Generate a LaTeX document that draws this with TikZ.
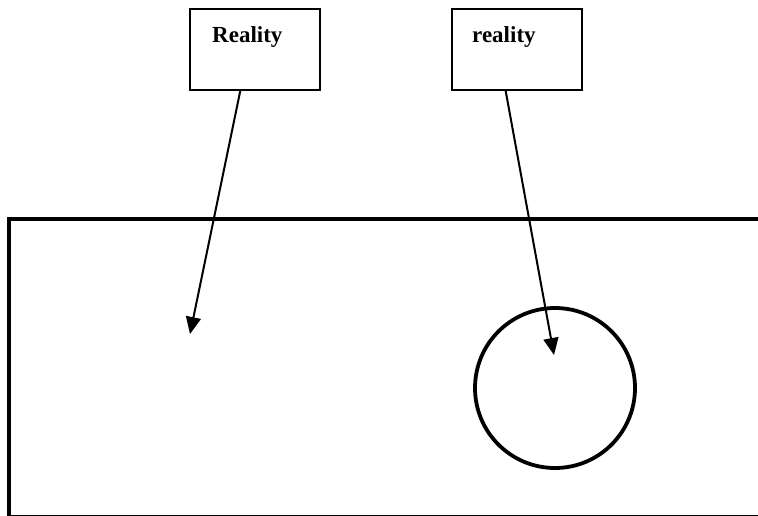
\documentclass[tikz,border=0pt]{standalone}
\usepackage{fontspec}
\setmainfont{Liberation Serif}
\usetikzlibrary{arrows.meta,calc}
\begin{document}
\begin{tikzpicture}[x=1pt,y=-1pt,
  box/.style={draw,line width=1.6pt,minimum width=130pt,minimum height=81pt,inner sep=0pt,anchor=north west},
  lab/.style={anchor=base west,inner sep=0pt,font=\fontsize{23}{27}\selectfont\bfseries},
  arr/.style={line width=2pt,-{Triangle[length=17pt,width=15pt]}},
  thick3/.style={line width=3.5pt}]
\useasboundingbox (0,0) rectangle (758,515);
\clip (0,0) rectangle (758,515);
\node[draw,thick3,rectangle,anchor=north west,minimum width=760pt,minimum height=297.5pt,inner sep=0pt] (frame) at (7,217) {};
\node[box] (box1) at (189,8) {};
\node[box] (box2) at (451,8) {};
\node[lab] (lab1) at (212,42) {Reality};
\node[lab] (lab2) at (472,42) {reality};
\node[draw,line width=3.8pt,circle,minimum size=160pt,inner sep=0pt] (circ) at (555,388) {};
\coordinate (t1) at (190,334);
\coordinate (t2) at (554,355);
\draw[arr] ($(box1.south west)!0.39!(box1.south east)$) -- (t1);
\draw[arr] ($(box2.south west)!0.415!(box2.south east)$) -- (t2);
\end{tikzpicture}
\end{document}
